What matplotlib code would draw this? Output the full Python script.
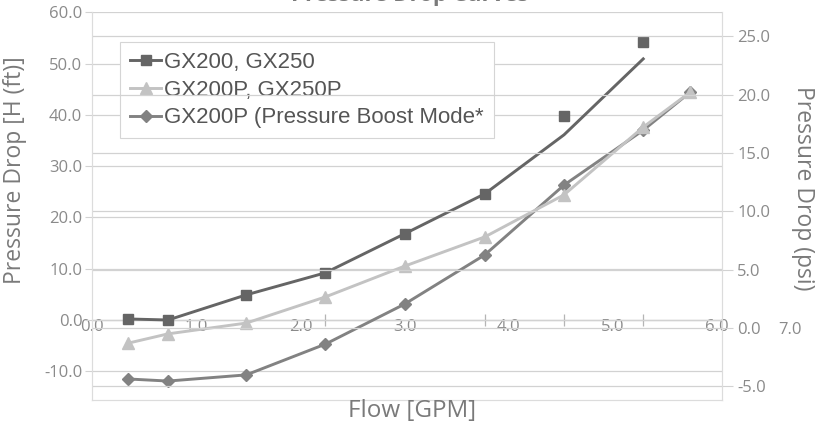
import numpy as np
import matplotlib
matplotlib.use('Agg')
import matplotlib.pyplot as plt
from matplotlib.lines import Line2D

# flow values (GPM)
flow = [0.35, 0.73, 1.48, 2.24, 3.0, 3.77, 4.53, 5.29, 5.74]

# GX200/GX250: line and markers drift apart at the top end
gx200_line = [0.2, 0.0, 4.9, 9.2, 16.8, 24.6, 36.1, 50.9]
gx200_pts  = [0.2, 0.0, 4.9, 9.2, 16.8, 24.6, 39.8, 54.2]
gx200p     = [-4.5, -2.7, -0.6, 4.5, 10.5, 16.2, 24.4, 37.6, 44.4]
boost      = [-11.5, -11.9, -10.7, -4.7, 3.1, 12.7, 26.3, 37.0, 44.4]

x_ticks   = [0, 1, 2, 3, 4, 5, 6]
cat_ticks = [2.24, 3.77, 4.53, 5.29]
ft_ticks  = [-10, 0, 10, 20, 30, 40, 50, 60]
psi_ticks = [-5, 0, 5, 10, 15, 20, 25]

labels = ['GX200, GX250', 'GX200P, GX250P', 'GX200P (Pressure Boost Mode*']

C_SQ, C_TRI, C_DIA = '#656565', '#c3c3c3', '#828282'
TXT   = '#8a8a8a'
GRID  = '#d2d2d2'

W, H = 817, 428
fig = plt.figure(figsize=(W/100, H/100), dpi=100)

# pixel box of the plot area
L, R, T, B = 92, 722, 12, 400
ax = fig.add_axes([L/W, 1-B/H, (R-L)/W, (B-T)/H])

# left axis (ft): 0 at y=320 px, 5.13 px per ft
y0, y1 = (320-B)/5.13, (320-T)/5.13
ax.set_xlim(0, (R-L)/104.2)
ax.set_ylim(y0, y1)

# right axis (psi): 0 at y=328 px, 11.67 px per psi
ax2 = ax.twinx()
ax2.set_ylim((328-B)/11.67, (328-T)/11.67)

for a in (ax, ax2):
    a.set_facecolor('none')
    for s in a.spines.values():
        s.set_color('#dcdcdc')
        s.set_linewidth(0.8)
    a.spines['top'].set_visible(False)

ax.set_yticks(ft_ticks)
ax.set_yticklabels([f'{v:.1f}' for v in ft_ticks])
ax.yaxis.grid(True, color=GRID, lw=0.9)
ax.tick_params(axis='y', colors=GRID, labelcolor=TXT, labelsize=12,
               length=5, pad=2)
ax.set_xticks([])

ax2.set_yticks(psi_ticks)
ax2.set_yticklabels([f'{v:.1f}' for v in psi_ticks])
ax2.yaxis.grid(True, color=GRID, lw=0.9)
ax2.tick_params(axis='y', colors=GRID, labelcolor=TXT, labelsize=12,
                length=8, pad=3)
for t in ax.get_yticklabels() + ax2.get_yticklabels():
    t.set_family('Open Sans')

# x axis drawn along the ft = 0 line
sec = ax.secondary_xaxis((0 - y0)/(y1 - y0))
sec.spines['bottom'].set_color('#b5b5b5')
sec.spines['bottom'].set_linewidth(0.9)
sec.set_xticks(x_ticks)
sec.set_xticklabels([f'{v:.1f}' for v in x_ticks], family='Open Sans')
sec.set_xticks(cat_ticks, minor=True)
sec.tick_params(axis='x', which='major', length=0, pad=-1,
                labelsize=12, labelcolor=TXT)
sec.tick_params(axis='x', which='minor', length=9, direction='inout',
                color='#b5b5b5', width=0.9)

ax.text(6.7, -2.0, '7.0', color=TXT, fontsize=12, family='Open Sans',
        ha='center', va='center', clip_on=False)

# series
ax.plot(flow[:len(gx200_line)], gx200_line, color=C_SQ, lw=2.1, zorder=4)
ax.plot(flow[:len(gx200_pts)], gx200_pts, ls='none', marker='s', ms=7,
        color=C_SQ, zorder=5)
ax.plot(flow, boost, color=C_DIA, lw=2.1, marker='D', ms=6.5, zorder=3)
ax.plot(flow, gx200p, color=C_TRI, lw=2.1, marker='^', ms=9, zorder=4)

# legend
handles = [
    Line2D([0], [0], color=C_SQ, lw=2.1, marker='s', ms=7),
    Line2D([0], [0], color=C_TRI, lw=2.1, marker='^', ms=9),
    Line2D([0], [0], color=C_DIA, lw=2.1, marker='D', ms=6.5),
]
leg = ax.legend(handles, labels, loc='upper left',
                bbox_to_anchor=(120/W, 1-42/H), bbox_transform=fig.transFigure,
                borderaxespad=0,
                prop={'family': 'Liberation Sans', 'size': 16},
                handlelength=1.4, handletextpad=0.15, labelspacing=0.3,
                borderpad=0.45, fancybox=False, framealpha=1,
                edgecolor='#d5d5d5', labelcolor='#555555')
leg.get_frame().set_linewidth(0.8)
leg.set_zorder(10)

# axis titles
fig.text(15/W, 1-170/H, 'Pressure Drop [H (ft)]', rotation=90,
         ha='center', va='center', fontsize=16.5, color='#7a7a7a',
         family='Open Sans')
fig.text(803/W, 1-188/H, 'Pressure Drop (psi)', rotation=270,
         ha='center', va='center', fontsize=16.5, color='#7a7a7a',
         family='Open Sans')
fig.text(412/W, 1-411/H, 'Flow [GPM]', ha='center', va='center',
         fontsize=17.5, color='#7a7a7a', family='Open Sans')
# title sits mostly above the page edge, as in the scan
fig.text(410/W, 1-1.5/H, 'Pressure Drop Curves', ha='center',
         va='baseline', fontsize=16, fontweight='bold', color='#7a7a7a',
         family='Open Sans')

fig.savefig('out.png', dpi=100, facecolor='white')
